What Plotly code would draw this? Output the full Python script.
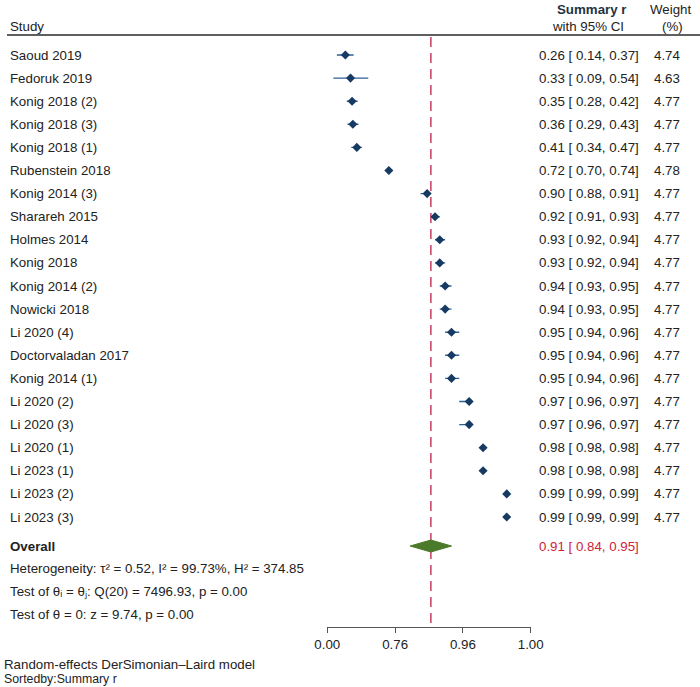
import numpy as np
import plotly.graph_objects as go

studies = ["Saoud 2019", "Fedoruk 2019", "Konig 2018 (2)", "Konig 2018 (3)", "Konig 2018 (1)",
           "Rubenstein 2018", "Konig 2014 (3)", "Sharareh 2015", "Holmes 2014", "Konig 2018",
           "Konig 2014 (2)", "Nowicki 2018", "Li 2020 (4)", "Doctorvaladan 2017", "Konig 2014 (1)",
           "Li 2020 (2)", "Li 2020 (3)", "Li 2020 (1)", "Li 2023 (1)", "Li 2023 (2)", "Li 2023 (3)"]
r_est = [0.26, 0.33, 0.35, 0.36, 0.41, 0.72, 0.90, 0.92, 0.93, 0.93, 0.94, 0.94, 0.95, 0.95, 0.95,
         0.97, 0.97, 0.98, 0.98, 0.99, 0.99]
r_lo = [0.14, 0.09, 0.28, 0.29, 0.34, 0.70, 0.88, 0.91, 0.92, 0.92, 0.93, 0.93, 0.94, 0.94, 0.94,
        0.96, 0.96, 0.98, 0.98, 0.99, 0.99]
r_hi = [0.37, 0.54, 0.42, 0.43, 0.47, 0.74, 0.91, 0.93, 0.94, 0.94, 0.95, 0.95, 0.96, 0.96, 0.96,
        0.97, 0.97, 0.98, 0.98, 0.99, 0.99]
weights = [4.74, 4.63, 4.77, 4.77, 4.77, 4.78, 4.77, 4.77, 4.77, 4.77, 4.77, 4.77, 4.77, 4.77, 4.77,
           4.77, 4.77, 4.77, 4.77, 4.77, 4.77]
overall_r = 0.91
overall_lo = 0.84
overall_hi = 0.95
tick_z = [0, 1, 2, 3]
tick_labels = ["0.00", "0.76", "0.96", "1.00"]

W, H = 700, 687
FONT = "Liberation Sans, Arial, sans-serif"
TXT = "#222222"
FS = 13.3
row0_px, row_step = 55.0, 23.1

def px_to_row(p):
    return (p - row0_px) / row_step

def py(p):  # pixel y -> paper
    return 1 - p / H

def px(p):  # pixel x -> paper
    return p / W

z = np.arctanh(np.array(r_est))
zlo = np.arctanh(np.array(r_lo))
zhi = np.arctanh(np.clip(np.array(r_hi), None, 0.9999))
z_ov = np.arctanh(overall_r)
z_ov_lo = np.arctanh(overall_lo)
z_ov_hi = np.arctanh(overall_hi)
rows = list(range(len(studies)))
overall_row = px_to_row(546)

fig = go.Figure()

# dashed reference line at overall estimate
fig.add_trace(go.Scatter(x=[z_ov, z_ov], y=[px_to_row(37), px_to_row(626)], mode="lines",
                         line=dict(color="#cc4a6a", width=1.6, dash="10px,6px"),
                         hoverinfo="skip", showlegend=False))

# study estimates with CIs
fig.add_trace(go.Scatter(
    x=z, y=rows, mode="markers",
    marker=dict(symbol="diamond", size=7, color="#173a63"),
    error_x=dict(type="data", symmetric=False, array=zhi - z, arrayminus=z - zlo,
                 color="#2c5f94", thickness=1.4, width=0),
    showlegend=False))

# overall diamond
hh = 6.0 / row_step
fig.add_trace(go.Scatter(
    x=[z_ov_lo, z_ov, z_ov_hi, z_ov, z_ov_lo],
    y=[overall_row, overall_row - hh, overall_row, overall_row + hh, overall_row],
    mode="lines", fill="toself", fillcolor="#4b7a2a", line=dict(color="#4b7a2a", width=1),
    showlegend=False))

ann = []
def add_text(text, x, y, xanchor="left", yref="y", size=FS, color=TXT, bold=False):
    if bold:
        text = "<b>" + text + "</b>"
    ann.append(dict(text=text, x=x, y=y, xref="paper", yref=yref, xanchor=xanchor,
                    yanchor="middle", showarrow=False, borderpad=0,
                    font=dict(family=FONT, size=size, color=color)))

for i, s in enumerate(studies):
    add_text(s, px(9), i)
    add_text(f"{r_est[i]:.2f} [ {r_lo[i]:.2f}, {r_hi[i]:.2f}]", px(640), i, xanchor="right")
    add_text(f"{weights[i]:.2f}", px(681), i, xanchor="right")

add_text("Overall", px(9), overall_row, bold=True)
add_text(f"{overall_r:.2f} [ {overall_lo:.2f}, {overall_hi:.2f}]", px(640), overall_row,
         xanchor="right", color="#d0223a")
add_text("Heterogeneity: τ² = 0.52, I² = 99.73%, H² = 374.85", px(9), px_to_row(568))
add_text("Test of θᵢ = θⱼ: Q(20) = 7496.93, p = 0.00", px(9), px_to_row(592))
add_text("Test of θ = 0: z = 9.74, p = 0.00", px(9), px_to_row(614))

# headers
add_text("Study", px(9), py(26), yref="paper")
add_text("Summary r", px(591), py(10), xanchor="center", yref="paper", bold=True, color="#1f3340")
add_text("with 95% CI", px(588), py(26), xanchor="center", yref="paper")
add_text("Weight", px(670), py(10), xanchor="center", yref="paper")
add_text("(%)", px(672), py(26), xanchor="center", yref="paper")

# footer
add_text("Random-effects DerSimonian–Laird model", px(3), py(664), yref="paper")
add_text("Sortedby:Summary r", px(3), py(679), yref="paper", size=12.3)

shapes = [dict(type="line", xref="paper", yref="paper", x0=px(7), x1=1.0, y0=py(35), y1=py(35),
               line=dict(color="#5f5f5f", width=2))]

x0p, x1p = 327.3, 530.7
fig.update_layout(
    template="none",
    width=W, height=H, margin=dict(l=0, r=0, t=0, b=0, pad=0, autoexpand=False),
    paper_bgcolor="white", plot_bgcolor="rgba(0,0,0,0)",
    xaxis=dict(domain=[px(x0p), px(x1p)], range=[0, 3], anchor="free", position=py(626.7),
               automargin=False,
               tickvals=tick_z, ticktext=tick_labels, showline=True, linecolor="#555555",
               linewidth=1, ticks="outside", ticklen=5, tickcolor="#555555", showgrid=False,
               zeroline=False, tickfont=dict(family=FONT, size=FS, color=TXT)),
    yaxis=dict(domain=[0, 1], range=[px_to_row(H), px_to_row(0)], visible=False,
               automargin=False, showgrid=False, zeroline=False),
    annotations=ann, shapes=shapes, showlegend=False,
)

fig.write_html("out.html")
